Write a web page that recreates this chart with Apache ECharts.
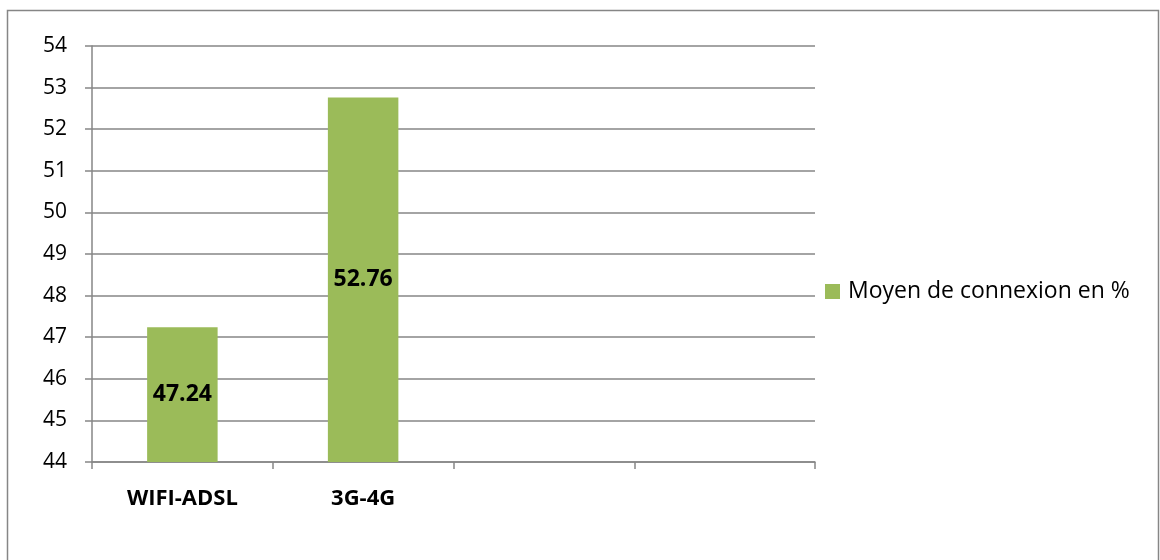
<!DOCTYPE html>
<html>
<head>
<meta charset="utf-8">
<script src="https://cdn.jsdelivr.net/npm/echarts@6/dist/echarts.min.js"></script>
<style>
  html, body { margin: 0; padding: 0; background: #fff; }
  #chart { width: 1160px; height: 560px; }
</style>
</head>
<body>
<div id="chart"></div>
<script>
// Connection type categories (last two slots are empty on the axis)
const categories = ['WIFI-ADSL', '3G-4G', '', ''];
// Share of each connection type, in %
const seriesValues = [47.24, 52.76, null, null];
const seriesName = 'Moyen de connexion en %';
const yMin = 44, yMax = 54, yStep = 1;

const chart = echarts.init(document.getElementById('chart'), null, { renderer: 'canvas' });
const FONT = '"Open Sans", "Noto Sans", sans-serif';
const GREY = '#868686';
const GREEN = '#9BBB59';

chart.setOption({
  animation: false,
  backgroundColor: '#fff',
  graphic: [{
    type: 'rect',
    shape: { x: 7.5, y: 10.5, width: 1151, height: 600 },
    style: { fill: 'none', stroke: GREY, lineWidth: 1.5 },
    silent: true
  }],
  grid: { left: 92, right: 345, top: 46, bottom: 98, containLabel: false },
  legend: {
    left: 825, top: 280, padding: 0,
    itemWidth: 15, itemHeight: 15, itemGap: 10,
    icon: 'rect',
    textStyle: { fontFamily: FONT, fontSize: 23, color: '#000', padding: [0, 0, 0, 3] },
    data: [seriesName]
  },
  xAxis: {
    type: 'category',
    data: categories,
    axisLine: { lineStyle: { color: GREY, width: 1.5 } },
    axisTick: { show: true, length: 7, alignWithLabel: false, lineStyle: { color: GREY, width: 1.5 } },
    axisLabel: { fontFamily: FONT, fontSize: 22, fontWeight: 'bold', color: '#000', margin: 26 },
    splitLine: { show: false }
  },
  yAxis: {
    type: 'value',
    min: yMin, max: yMax, interval: yStep,
    axisLine: { show: true, lineStyle: { color: GREY, width: 1.5 } },
    axisTick: { show: true, length: 7, lineStyle: { color: GREY, width: 1.5 } },
    axisLabel: { fontFamily: FONT, fontSize: 21, color: '#000', margin: 25 },
    splitLine: { show: true, lineStyle: { color: GREY, width: 1.5 } }
  },
  series: [{
    name: seriesName,
    type: 'bar',
    data: seriesValues,
    barWidth: '39%',
    itemStyle: { color: GREEN },
    label: {
      show: true,
      position: 'inside',
      fontFamily: FONT, fontSize: 23, fontWeight: 'bold', color: '#000',
      formatter: p => p.value.toFixed(2)
    }
  }]
});
</script>
</body>
</html>
